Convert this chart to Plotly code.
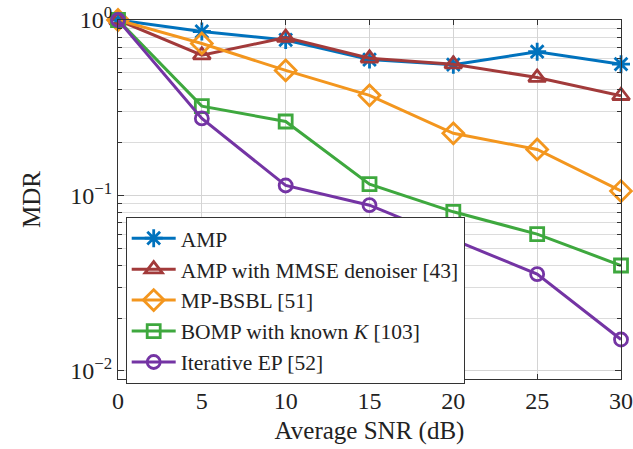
import plotly.graph_objects as go

snr = [0, 5, 10, 15, 20, 25, 30]
amp = [1.0, 0.86, 0.77, 0.595, 0.556, 0.66, 0.56]
amp_mmse = [1.0, 0.63, 0.795, 0.605, 0.56, 0.47, 0.37]
mp_bsbl = [1.0, 0.735, 0.516, 0.372, 0.226, 0.183, 0.106]
bomp = [1.0, 0.323, 0.264, 0.116, 0.0807, 0.0602, 0.0399]
iter_ep = [1.0, 0.275, 0.114, 0.088, 0.056, 0.0356, 0.0151]

names = ["AMP", "AMP with MMSE denoiser [43]", "MP-BSBL [51]",
         "BOMP with known <i>K</i> [103]", "Iterative EP [52]"]
series = [amp, amp_mmse, mp_bsbl, bomp, iter_ep]
colors = ["#0072BD", "#A23A3A", "#F3961E", "#3EA83E", "#7434A4"]
symbols = ["asterisk-open", "triangle-up-open", "diamond-open", "square-open", "circle-open"]
sizes = [15, 15, 16, 13, 13]

y_major = [0.01, 0.1, 1]
y_major_text = ["10<sup>\u22122</sup>", "10<sup>\u22121</sup>", "10<sup>0</sup>"]
y_minor = [m * d for d in (0.01, 0.1) for m in range(2, 10)]
x_ticks = [0, 5, 10, 15, 20, 25, 30]

FONT = "'Liberation Serif', 'Times New Roman', serif"

fig = go.Figure()
for name, vals, col, sym, sz in zip(names, series, colors, symbols, sizes):
    fig.add_trace(go.Scatter(
        x=snr, y=vals, name=name, mode="lines+markers",
        line=dict(color=col, width=3),
        marker=dict(symbol=sym, size=sz, color=col, line=dict(color=col, width=2.8)),
        cliponaxis=False,
    ))

fig.update_layout(
    width=633, height=449,
    margin=dict(l=118, r=12, t=20, b=70),
    paper_bgcolor="white", plot_bgcolor="white",
    font=dict(family=FONT, size=24, color="#222"),
    showlegend=True,
    legend=dict(
        x=0.0153, y=0.452, xanchor="left", yanchor="top",
        bgcolor="white", bordercolor="#333", borderwidth=1,
        font=dict(family=FONT, size=21.5, color="#222"),
        itemwidth=44, tracegroupgap=0,
    ),
)
fig.update_xaxes(
    range=[0, 30], tickmode="array", tickvals=x_ticks, automargin=False,
    showgrid=True, gridcolor="#d4d4d4", gridwidth=1,
    showline=True, linecolor="#333", linewidth=1.2, mirror="allticks",
    ticks="inside", ticklen=5, tickcolor="#333",
    title=dict(text="Average SNR (dB)", standoff=8, font=dict(size=25)),
    zeroline=False,
)
fig.update_yaxes(
    type="log", range=[-2.046, 0.0], automargin=False,
    tickmode="array", tickvals=y_major, ticktext=y_major_text,
    showgrid=True, gridcolor="#d4d4d4", gridwidth=1,
    showline=True, linecolor="#333", linewidth=1.2, mirror="allticks",
    ticks="inside", ticklen=6, tickcolor="#333",
    minor=dict(tickmode="array", tickvals=y_minor, ticks="inside", ticklen=4,
               tickcolor="#333", showgrid=True, gridcolor="#dcdcdc", gridwidth=1),
    title=dict(text="MDR", standoff=22, font=dict(size=25)),
    zeroline=False,
)

fig.write_html("out.html")
